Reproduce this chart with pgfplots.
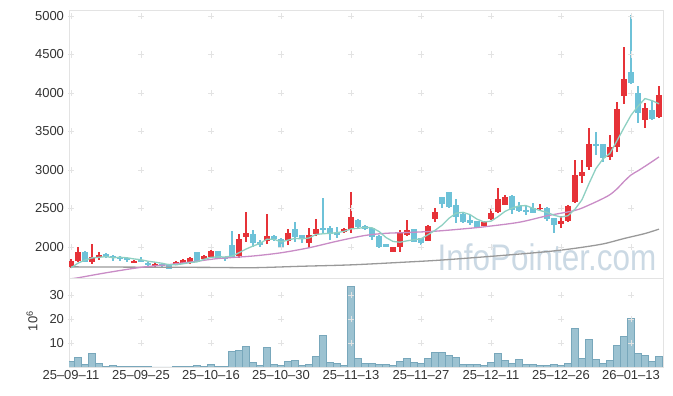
\documentclass[border=0pt]{standalone}
\usepackage{pgfplots}
\pgfplotsset{compat=1.18}
\usepackage{pgfplotstable}
\usepackage{fontspec}
\setmainfont{Liberation Sans}
\definecolor{upc}{HTML}{E63238}
\definecolor{dnc}{HTML}{6EC2D8}
\definecolor{volc}{HTML}{9CC2D1}
\definecolor{vole}{HTML}{78A7BB}
\definecolor{ma5}{HTML}{8ED0C2}
\definecolor{ma20}{HTML}{C98CC6}
\definecolor{ma60}{HTML}{999999}
\definecolor{gridc}{HTML}{E3E3E3}
\definecolor{tickc}{HTML}{333333}
\definecolor{wmc}{HTML}{CBD9E4}

\pgfplotstableread{
i O H L C
0 1744 1840 1731 1818
1 1822 1996 1809 1939
3 1809 2039 1779 1870
4 1866 1931 1831 1896
9 1796 1831 1790 1822
12 1749 1800 1740 1783
15 1775 1815 1760 1809
16 1796 1840 1785 1831
17 1796 1870 1780 1861
19 1840 1900 1830 1883
20 1870 1960 1860 1948
24 1883 2165 1853 2104
25 2134 2451 2069 2182
28 2082 2425 2039 2143
31 2078 2238 2026 2178
34 2056 2251 1983 2156
35 2169 2364 2147 2234
39 2199 2250 2180 2238
40 2234 2711 2182 2394
46 1939 2005 1935 2000
47 2004 2221 1935 2182
48 2156 2351 2140 2221
51 2082 2280 2075 2273
52 2364 2502 2329 2459
59 2277 2335 2270 2329
60 2360 2503 2350 2438
61 2459 2763 2438 2624
62 2546 2676 2540 2655
67 2490 2559 2485 2511
70 2295 2399 2251 2338
71 2338 2546 2330 2533
72 2589 3130 2568 2935
73 2926 3130 2827 2978
74 3039 3542 3000 3338
77 3165 3455 3130 3303
78 3295 3888 3238 3793
79 3966 4594 3858 4182
82 3650 3875 3542 3802
84 3685 4091 3680 3975
}\upT

\pgfplotstableread{
i O H L C
2 1939 1945 1805 1809
5 1909 1922 1853 1866
6 1883 1900 1818 1861
7 1870 1879 1818 1844
8 1861 1866 1809 1831
10 1827 1870 1809 1812
11 1792 1800 1755 1762
13 1783 1790 1736 1762
14 1760 1770 1715 1720
18 1931 1935 1800 1809
21 1948 1950 1855 1861
22 1870 1875 1822 1853
23 2026 2208 1860 1866
26 2169 2221 2000 2056
27 2069 2090 2000 2026
29 2143 2160 2080 2100
30 2104 2113 1991 2004
32 2234 2320 2069 2134
33 2156 2160 2052 2113
36 2251 2633 2186 2221
37 2251 2278 2091 2165
38 2178 2264 2113 2156
41 2351 2360 2250 2256
42 2277 2290 2220 2230
43 2243 2250 2091 2134
44 2147 2150 1990 1996
45 2039 2045 1995 2000
49 2234 2240 2060 2069
50 2113 2120 2030 2056
53 2646 2650 2503 2559
54 2711 2715 2500 2516
55 2546 2624 2308 2386
56 2429 2440 2310 2329
57 2351 2420 2290 2316
58 2338 2340 2250 2264
63 2667 2670 2429 2481
64 2537 2590 2460 2472
65 2481 2546 2416 2459
66 2511 2568 2440 2446
68 2511 2515 2340 2364
69 2373 2380 2178 2286
75 3338 3498 3195 3316
76 3338 3338 3100 3152
80 4277 5014 4120 4126
81 3996 4091 3607 3737
83 3780 3910 3650 3659
}\dnT

\pgfplotstableread{
i V
0 2.4
1 4.0
2 1.1
3 5.7
4 1.5
5 0.3
6 0.7
7 0.3
8 0.3
9 0.3
10 0.3
11 0.3
12 0.05
13 0.05
14 0.05
15 0.3
16 0.3
17 0.3
18 0.7
19 0.3
20 1.1
21 0.3
22 0.3
23 6.5
24 6.9
25 8.6
26 1.9
27 0.7
28 8.2
29 1.1
30 0.7
31 2.4
32 2.8
33 0.7
34 1.1
35 4.4
36 13.2
37 1.9
38 1.5
39 0.7
40 33.7
41 3.6
42 1.5
43 1.5
44 1.1
45 1.1
46 0.7
47 2.4
48 3.6
49 1.9
50 1.5
51 3.6
52 6.1
53 6.1
54 4.9
55 4.0
56 1.1
57 1.1
58 1.1
59 0.7
60 1.9
61 5.7
62 2.8
63 1.5
64 3.2
65 1.1
66 1.1
67 0.7
68 0.7
69 1.1
70 0.7
71 1.5
72 16.1
73 3.6
74 11.5
75 3.2
76 1.5
77 2.8
78 9.0
79 12.8
80 20.3
81 5.7
82 4.9
83 2.4
84 4.4
}\volT

\pgfplotstableread{
i M
0 1730
1 1790
2 1830
3 1858
4 1866
5 1876
6 1860
7 1867
8 1860
9 1845
10 1835
11 1815
12 1803
13 1789
14 1770
15 1768
16 1782
17 1797
18 1807
19 1839
20 1866
21 1872
22 1871
23 1882
24 1926
25 1973
26 2012
27 2047
28 2102
29 2101
30 2066
31 2090
32 2112
33 2106
34 2117
35 2163
36 2172
37 2178
38 2186
39 2203
40 2235
41 2242
42 2255
43 2250
44 2202
45 2123
46 2072
47 2062
48 2080
49 2094
50 2106
51 2160
52 2216
53 2283
54 2373
55 2439
56 2450
57 2421
58 2362
59 2325
60 2335
61 2394
62 2462
63 2505
64 2534
65 2538
66 2503
67 2474
68 2450
69 2413
70 2389
71 2406
72 2491
73 2614
74 2824
75 3020
76 3144
77 3217
78 3380
79 3549
80 3711
81 3828
82 3928
83 3901
84 3860
}\maA

\pgfplotstableread{
i M
0 1588
1 1600
5 1665
10 1736
14 1772
18 1815
21 1850
26 1883
30 1925
34 1990
38 2075
42 2150
45 2178
48 2188
52 2205
56 2235
59 2262
64 2321
68 2405
72 2475
74 2545
76 2630
77 2680
78 2755
79 2850
80 2935
81 2990
82 3048
83 3108
84 3170
}\maB

\pgfplotstableread{
i M
0 1742
10 1738
20 1735
26 1731
33 1750
40 1768
47 1800
53 1831
62 1893
68 1940
72 1983
76 2040
79 2110
82 2175
84 2232
}\maC

\pgfplotsset{
  chartbase/.style={
    scale only axis, width=594bp,
    xmin=-0.2857, xmax=84.571,
    set layers,
    axis line style={draw=gridc, line width=0.8bp},
    major tick length=0pt,
    tick label style={font=\fontsize{13bp}{15bp}\selectfont, text=tickc},
    /pgf/number format/assume math mode=true,
    /pgf/number format/1000 sep={},
    yticklabel style={xshift=-1.5bp},
    clip=true,
  },
  cross/.style={on layer=axis background, only marks, mark=+, mark size=3bp, color=gridc, line width=0.8bp, forget plot},
  candle/.style 2 args={draw=none, mark=none, forget plot, error bars/.cd, y dir=both, y explicit, error mark=none, error bar style={draw=#1, line width=#2}},
}

\begin{document}
\begin{tikzpicture}
\begin{axis}[chartbase, at={(0bp,89bp)}, anchor=south west, height=268bp,
  ymin=1597.4, ymax=5078, xtick=\empty, ytick={2000,2500,...,5000}]
\pgfplotsinvokeforeach{0,10,...,80}{
  \addplot[cross] coordinates {(#1,2000)(#1,2500)(#1,3000)(#1,3500)(#1,4000)(#1,4500)(#1,5000)};
}
\node[font=\fontsize{37bp}{40bp}\selectfont, text=wmc, xscale=0.85, anchor=base] at (axis cs:68,1700) {InfoPointer.com};
% wicks
\addplot[candle={upc}{1.3bp}]
  table[x=i, y expr={(\thisrow{H}+\thisrow{L})/2}, y error expr={(\thisrow{H}-\thisrow{L})/2}] {\upT};
\addplot[candle={dnc}{1.3bp}]
  table[x=i, y expr={(\thisrow{H}+\thisrow{L})/2}, y error expr={(\thisrow{H}-\thisrow{L})/2}] {\dnT};
% bodies
\addplot[candle={upc}{5.2bp}]
  table[x=i, y expr={(\thisrow{O}+\thisrow{C})/2}, y error expr={abs(\thisrow{C}-\thisrow{O})/2}] {\upT};
\addplot[candle={dnc}{5.2bp}]
  table[x=i, y expr={(\thisrow{O}+\thisrow{C})/2}, y error expr={abs(\thisrow{C}-\thisrow{O})/2}] {\dnT};
% moving averages
\addplot[ma60, line width=1.3bp, smooth, mark=none] table[x=i,y=M] {\maC};
\addplot[ma20, line width=1.3bp, smooth, mark=none] table[x=i,y=M] {\maB};
\addplot[ma5, line width=1.3bp, mark=none] table[x=i,y=M] {\maA};
\end{axis}

\begin{axis}[chartbase, at={(0bp,0bp)}, anchor=south west, height=89bp,
  ymin=0, ymax=37.08, ytick={10,20,30},
  xtick={0,10,...,80},
  xticklabels={25--09--11,25--09--25,25--10--16,25--10--30,25--11--13,25--11--27,25--12--11,25--12--26,26--01--13}]
\pgfplotsinvokeforeach{0,10,...,80}{
  \addplot[cross] coordinates {(#1,10)(#1,20)(#1,30)};
}
\addplot[ybar, bar width=1, fill=volc, draw=vole, line width=0.7bp] table[x=i,y=V] {\volT};
\end{axis}
\node[rotate=90, font=\fontsize{13bp}{15bp}\selectfont, text=tickc] at (-37bp,46bp) {10\textsuperscript{6}};
\pgfresetboundingbox
\path[use as bounding box] (-69bp,-29bp) rectangle (604bp,367bp);
\end{tikzpicture}
\end{document}
